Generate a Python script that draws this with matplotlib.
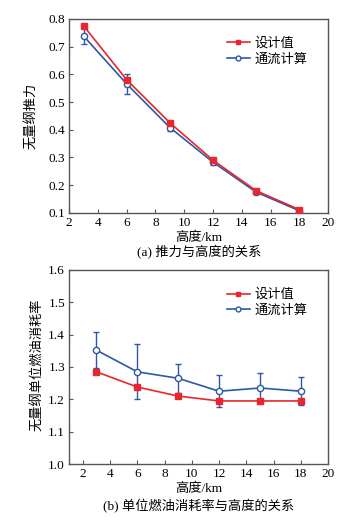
import matplotlib
matplotlib.use('Agg')
from matplotlib import pyplot as plt
from matplotlib.lines import Line2D

plt.rcParams['font.family'] = ['Liberation Serif', 'Noto Sans CJK SC']
plt.rcParams['font.size'] = 8

# altitude points (km)
height = [3, 6, 9, 12, 15, 18]

# (a) thrust vs altitude
thrust_design = [0.775, 0.580, 0.425, 0.290, 0.180, 0.112]
thrust_calc = [0.738, 0.565, 0.408, 0.283, 0.175, 0.108]
thrust_err = [0.030, 0.036, 0.012, 0.010, 0.005, 0.003]

# (b) specific fuel consumption vs altitude
sfc_design = [1.285, 1.238, 1.210, 1.195, 1.195, 1.195]
sfc_calc = [1.352, 1.285, 1.265, 1.225, 1.235, 1.225]
sfc_err = [0.055, 0.085, 0.045, 0.050, 0.047, 0.043]

red = '#e8262c'
blue = '#2e58a6'
spine = '#555555'


def style_axes(ax):
    for s in ax.spines.values():
        s.set_color(spine)
        s.set_linewidth(1.0)
    ax.tick_params(direction='in', length=3, width=0.8, color=spine,
                   labelsize=9.5, pad=3)


def draw(ax, design, calc, err):
    ax.plot(height, design, '-s', color=red, lw=1.2, ms=4,
            mfc=red, mec=red, zorder=3)
    ax.errorbar(height, calc, yerr=err, fmt='-o', color=blue, lw=1.2,
                ms=4.5, mfc='white', mec=blue, mew=1.0, capsize=2.5,
                elinewidth=1.0, zorder=2)
    # legend without the errorbar caps
    handles = [Line2D([], [], color=red, lw=1.2, marker='s', ms=3.5),
               Line2D([], [], color=blue, lw=1.2, marker='o', ms=3.5,
                      mfc='white', mec=blue)]
    ax.legend(handles, ['设计值', '通流计算'], loc='upper right',
              bbox_to_anchor=(0.965, 0.965), frameon=False, fontsize=9.5,
              handlelength=1.8, handletextpad=0.3, labelspacing=0.25)


fig = plt.figure(figsize=(3.51, 5.22), dpi=100)

ax1 = fig.add_axes([0.197, 0.592, 0.738, 0.372])
draw(ax1, thrust_design, thrust_calc, thrust_err)
ax1.set_xlim(2, 20)
ax1.set_ylim(0.1, 0.8)
ax1.set_xticks(range(2, 21, 2))
ax1.set_yticks([0.1, 0.2, 0.3, 0.4, 0.5, 0.6, 0.7, 0.8])
ax1.set_yticklabels(['0.1', '0.2', '0.3', '0.4', '0.5', '0.6', '0.7', '0.8'])
style_axes(ax1)

ax2 = fig.add_axes([0.197, 0.111, 0.738, 0.372])
draw(ax2, sfc_design, sfc_calc, sfc_err)
ax2.set_xlim(1, 20)
ax2.set_ylim(1.0, 1.6)
ax2.set_xticks(range(2, 21, 2))
ax2.set_yticks([1.0, 1.1, 1.2, 1.3, 1.4, 1.5, 1.6])
ax2.set_yticklabels(['1.0', '1.1', '1.2', '1.3', '1.4', '1.5', '1.6'])
style_axes(ax2)

fig.text(32 / 351, 1 - 116 / 522, '无量纲推力', rotation=90,
         ha='center', va='center', fontsize=9.5)
fig.text(38 / 351, 1 - 365 / 522, '无量纲单位燃油消耗率', rotation=90,
         ha='center', va='center', fontsize=9.5)
fig.text(199 / 351, 1 - 238 / 522, '高度/km', ha='center', va='center', fontsize=9.5)
fig.text(199 / 351, 1 - 252 / 522, '(a) 推力与高度的关系', ha='center',
         va='center', fontsize=9.5)
fig.text(199 / 351, 1 - 489 / 522, '高度/km', ha='center', va='center', fontsize=9.5)
fig.text(199 / 351, 1 - 506 / 522, '(b) 单位燃油消耗率与高度的关系', ha='center',
         va='center', fontsize=9.5)

plt.savefig('out.png', dpi=100)
